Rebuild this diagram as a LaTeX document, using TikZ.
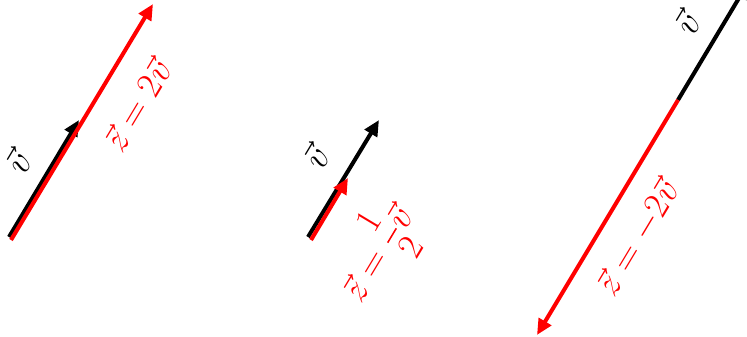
\documentclass[tikz,border=0pt]{standalone}
\usepackage{amsmath,amssymb}
\usepackage{tikz}
\usetikzlibrary{arrows.meta}

\begin{document}
\begin{tikzpicture}[
  x=0.02cm, y=-0.02cm,
  vec/.style={line width=2.3pt, -{Triangle[length=9pt, width=8pt]}},
  lbl/.style={font=\fontsize{22}{26}\selectfont, rotate=59, inner sep=0pt}
]
\clip (0,0) rectangle (747,337);
\useasboundingbox (0,0) rectangle (747,337);

% Panel 1: z = 2v
\coordinate (oA) at (9,237);
\coordinate (vA) at (79,120);
\coordinate (oAz) at (11,240);
\coordinate (zA) at (153,4);
\draw[vec, black] (oA) -- (vA);
\draw[vec, red] (oAz) -- (zA);
\node[lbl] (labvA) at (18,162) {$\vec{v}$};
\node[lbl, red] (labzA) at (137,105) {$\vec{z} = 2\vec{v}$};

% Panel 2: z = v/2
\coordinate (oB) at (308,237);
\coordinate (vB) at (379,120);
\coordinate (oBz) at (311,240);
\coordinate (zB) at (348,178);
\draw[vec, black] (oB) -- (vB);
\draw[vec, red] (oBz) -- (zB);
\node[lbl] (labvB) at (316,157) {$\vec{v}$};
\node[lbl, red] (labzB) at (378,254) {$\vec{z} = \dfrac{1}{2}\vec{v}$};

% Panel 3: z = -2v
\coordinate (oC) at (678,100);
\coordinate (vC) at (748,-17);
\coordinate (zC) at (537,335);
\draw[vec, black] (oC) -- (vC);
\draw[vec, red] (oC) -- (zC);
\node[lbl] (labvC) at (687,23) {$\vec{v}$};
\node[lbl, red] (labzC) at (638,238) {$\vec{z} = -2\vec{v}$};
\end{tikzpicture}
\end{document}
